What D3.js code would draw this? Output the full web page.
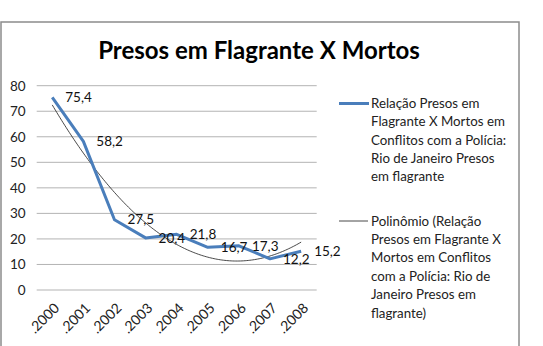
<!DOCTYPE html>
<html>
<head>
<meta charset="utf-8">
<script src="https://cdn.jsdelivr.net/npm/d3@7"></script>
<style>
  html, body { margin: 0; padding: 0; background: #fff; }
  svg { display: block; font-family: Lato, "Open Sans", sans-serif; }
</style>
</head>
<body>
<svg id="chart" width="543" height="346"></svg>
<script>
const categories = ["2000", "2001", "2002", "2003", "2004", "2005", "2006", "2007", "2008"];
const values = [75.4, 58.2, 27.5, 20.4, 21.8, 16.7, 17.3, 12.2, 15.2];
const valueLabels = ["75,4", "58,2", "27,5", "20,4", "21,8", "16,7", "17,3", "12,2", "15,2"];
const yTicks = [0, 10, 20, 30, 40, 50, 60, 70, 80];
const title = "Presos em Flagrante X Mortos";
const legendLines1 = ["Relação Presos em", "Flagrante X Mortos em", "Conflitos com a Polícia:", "Rio de Janeiro Presos", "em flagrante"];
const legendLines2 = ["Polinômio (Relação", "Presos em Flagrante X", "Mortos em Conflitos", "com a Polícia: Rio de", "Janeiro Presos em", "flagrante)"];

const svg = d3.select("#chart");

// chart area border
svg.append("rect")
  .attr("x", 1).attr("y", 22).attr("width", 518).attr("height", 340)
  .attr("fill", "#fff").attr("stroke", "#8c8c8c").attr("stroke-width", 1.5);

svg.append("text")
  .attr("x", 259).attr("y", 59)
  .attr("text-anchor", "middle")
  .attr("font-weight", "bold").attr("font-size", 24)
  .attr("fill", "#000")
  .text(title);

const plot = { left: 36.7, right: 316.7, top: 85.7, bottom: 290 };

const x = d3.scaleBand().domain(categories).range([plot.left, plot.right]);
const y = d3.scaleLinear().domain([0, 80]).range([plot.bottom, plot.top]);

// gridlines
svg.append("g").selectAll("line").data(yTicks.filter(d => d > 0)).join("line")
  .attr("x1", plot.left).attr("x2", plot.right)
  .attr("y1", d => y(d)).attr("y2", d => y(d))
  .attr("stroke", "#b3b3b3").attr("stroke-width", 1);

// y axis labels
const yAxis = svg.append("g").attr("transform", `translate(${plot.left},0)`)
  .call(d3.axisLeft(y).tickValues(yTicks).tickSize(0).tickPadding(11));
yAxis.select(".domain").remove();
yAxis.selectAll("text").attr("font-size", 13.5).attr("font-family", "Lato, sans-serif").attr("fill", "#222");

// x axis
const xAxis = svg.append("g").attr("transform", `translate(0,${plot.bottom})`)
  .call(d3.axisBottom(x).tickSize(0).tickPadding(0).tickFormat(d => "." + d));
xAxis.select(".domain").attr("stroke", "#b3b3b3").attr("stroke-width", 1)
  .attr("d", `M${plot.left},0H${plot.right}`);
xAxis.selectAll("text")
  .attr("font-size", 14).attr("font-family", "Lato, sans-serif").attr("fill", "#222")
  .attr("text-anchor", "end")
  .attr("dy", 0)
  .attr("transform", "translate(8,19) rotate(-45)");

const cx = d => x(d) + x.bandwidth() / 2;

// polynomial (order 2) least-squares trendline computed from the data
const n = values.length;
const xs = values.map((_, i) => i + 1);
let S = [0, 0, 0, 0, 0], T = [0, 0, 0];
xs.forEach((xv, i) => {
  for (let k = 0; k < 5; k++) S[k] += Math.pow(xv, k);
  for (let k = 0; k < 3; k++) T[k] += Math.pow(xv, k) * values[i];
});
function solve3(A, b) {
  const M = A.map((r, i) => r.concat([b[i]]));
  for (let i = 0; i < 3; i++) {
    let p = i;
    for (let r = i + 1; r < 3; r++) if (Math.abs(M[r][i]) > Math.abs(M[p][i])) p = r;
    [M[i], M[p]] = [M[p], M[i]];
    for (let r = 0; r < 3; r++) if (r !== i) {
      const f = M[r][i] / M[i][i];
      for (let c = i; c < 4; c++) M[r][c] -= f * M[i][c];
    }
  }
  return M.map((r, i) => r[3] / r[i]);
}
const coef = solve3([[S[0], S[1], S[2]], [S[1], S[2], S[3]], [S[2], S[3], S[4]]], T);
const poly = t => coef[0] + coef[1] * t + coef[2] * t * t;
const xi = d3.scaleLinear().domain([1, n]).range([cx(categories[0]), cx(categories[n - 1])]);
const trendPts = d3.range(1, n + 0.001, 0.05).map(t => [xi(t), y(poly(t))]);

svg.append("path")
  .attr("d", d3.line()(trendPts))
  .attr("fill", "none").attr("stroke", "#1a1a1a").attr("stroke-width", 0.8);

// data line
svg.append("path")
  .datum(values)
  .attr("d", d3.line().x((d, i) => cx(categories[i])).y(d => y(d)))
  .attr("fill", "none").attr("stroke", "#4a7ebb").attr("stroke-width", 3)
  .attr("stroke-linejoin", "round");

// data labels
svg.append("g").selectAll("text").data(values).join("text")
  .attr("x", (d, i) => cx(categories[i]) + 13)
  .attr("y", d => y(d))
  .attr("dy", "0.35em")
  .attr("font-size", 13.5).attr("fill", "#111")
  .text((d, i) => valueLabels[i]);

// legend
const lg = svg.append("g");
lg.append("line").attr("x1", 339).attr("x2", 369).attr("y1", 103.5).attr("y2", 103.5)
  .attr("stroke", "#4a7ebb").attr("stroke-width", 3);
lg.append("g").selectAll("text").data(legendLines1).join("text")
  .attr("x", 371).attr("y", (d, i) => 103.5 + i * 18.3).attr("dy", "0.35em")
  .attr("font-size", 13.3).attr("fill", "#222").text(d => d);
lg.append("line").attr("x1", 339).attr("x2", 368).attr("y1", 221).attr("y2", 221)
  .attr("stroke", "#1a1a1a").attr("stroke-width", 0.8);
lg.append("g").selectAll("text").data(legendLines2).join("text")
  .attr("x", 371).attr("y", (d, i) => 221 + i * 18.4).attr("dy", "0.35em")
  .attr("font-size", 13.3).attr("fill", "#222").text(d => d);
</script>
</body>
</html>
